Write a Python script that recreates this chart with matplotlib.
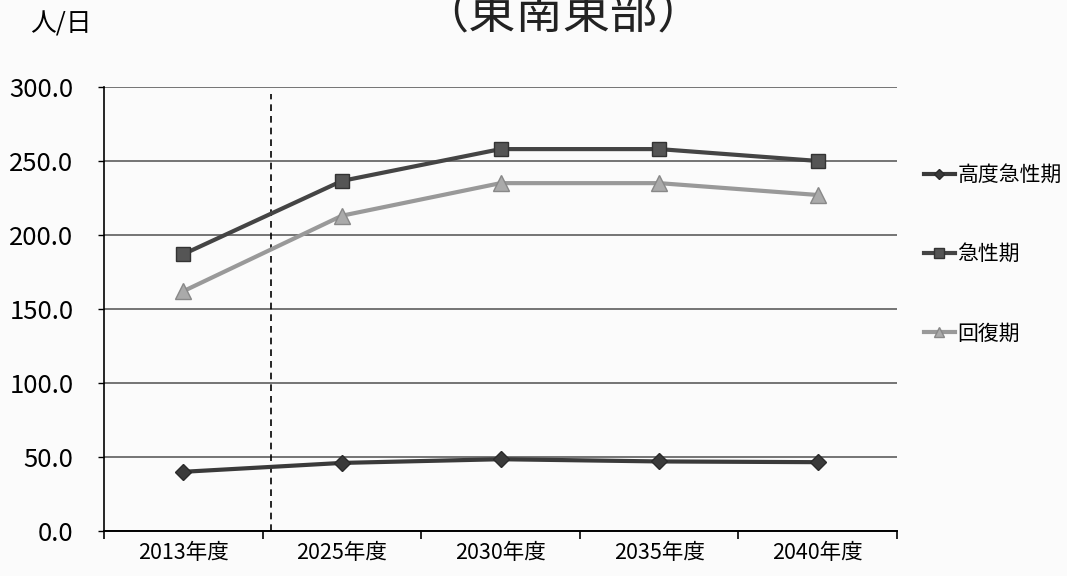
import matplotlib.pyplot as plt
import numpy as np

plt.rcParams['font.family'] = ['Noto Sans CJK JP', 'DejaVu Sans']

years = ['2013年度', '2025年度', '2030年度', '2035年度', '2040年度']
koudo = [40.0, 46.0, 48.5, 47.0, 46.5]      # 高度急性期
kyusei = [187.0, 236.5, 258.0, 258.0, 250.0]  # 急性期
kaifuku = [162.0, 213.0, 235.0, 235.0, 227.0]  # 回復期
yticks = [0, 50, 100, 150, 200, 250, 300]

fig = plt.figure(figsize=(10.67, 5.76), dpi=100)
fig.patch.set_facecolor('#fbfbfb')
ax = fig.add_axes([0.0975, 0.0781, 0.7432, 0.771])
ax.set_facecolor('none')

x = np.arange(len(years))
l1, = ax.plot(x, koudo, color='#3a3a3a', lw=3, marker='D', ms=8,
              mec='#2a2a2a', mfc='#3a3a3a', label='高度急性期', zorder=4)
l2, = ax.plot(x, kyusei, color='#444444', lw=3, marker='s', ms=10,
              mec='#333333', mfc='#555555', label='急性期', zorder=4)
l3, = ax.plot(x, kaifuku, color='#999999', lw=3, marker='^', ms=11,
              mec='#888888', mfc='#aaaaaa', label='回復期', zorder=4)

ax.set_xlim(-0.5, 4.5)
ax.set_ylim(0, 300)
ax.set_yticks(yticks)
ax.set_yticklabels([f'{v:.1f}' for v in yticks], fontsize=18.5)
ax.yaxis.grid(True, color='#505050', lw=1.1)
ax.set_axisbelow(True)

ax.set_xticks(x)
ax.set_xticklabels(years, fontsize=15.5)
ax.set_xticks(np.arange(-0.5, 5.0, 1.0), minor=True)
ax.tick_params(axis='x', which='major', length=0, pad=8)
ax.tick_params(axis='x', which='minor', length=6, width=1.2, direction='out')
ax.tick_params(axis='y', length=4, width=1.0, pad=18)

for s in ['top', 'right']:
    ax.spines[s].set_visible(False)
ax.spines['left'].set_linewidth(1.2)
ax.spines['bottom'].set_linewidth(1.4)

# divider between the base year and the projections
ax.axvline(0.55, ymin=0, ymax=0.985, color='black', lw=1.2, ls=(0, (4, 3)))

fig.text(0.057, 0.957, '人/日', fontsize=18.5, ha='center', va='center')
fig.text(0.528, 0.975, '（東南東部）', fontsize=34, ha='center', va='center',
         color='#222222')

fig.legend(handles=[l1, l2, l3], loc='upper left',
           bbox_to_anchor=(0.858, 0.73), frameon=False, fontsize=15,
           handlelength=1.5, handletextpad=0.1, labelspacing=2.75,
           markerscale=0.7, borderaxespad=0)

fig.savefig('out.png', dpi=100, facecolor=fig.get_facecolor())
